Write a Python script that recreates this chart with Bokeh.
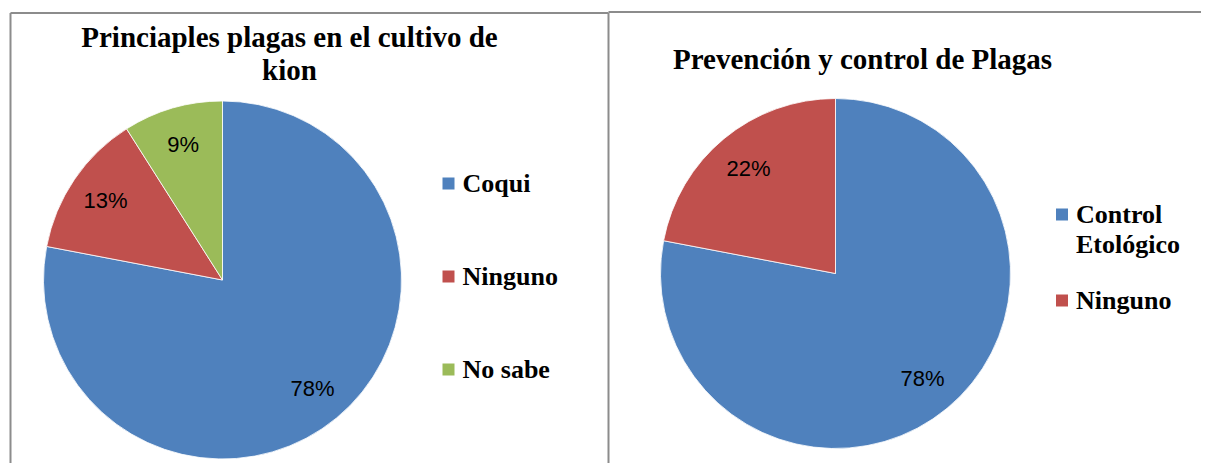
import math
from bokeh.plotting import figure
from bokeh.models import Range1d, ColumnDataSource
from bokeh.core.properties import value
from bokeh.embed import file_html
from bokeh.resources import INLINE

# ---- data ----
left_title = ["Princiaples plagas en el cultivo de", "kion"]
left_categories = ["Coqui", "Ninguno", "No sabe"]
left_values = [78, 13, 9]
left_colors = ["#4F81BD", "#C0504D", "#9BBB59"]

right_title = ["Prevención y control de Plagas"]
right_categories = ["Control\nEtológico", "Ninguno"]
right_values = [78, 22]
right_colors = ["#4F81BD", "#C0504D"]

# ---- geometry (picture pixels) ----
W, H = 1201, 463
TEXT_SHIFT = 8  # compensate rendered baseline offset


def Y(py):
    return H - py


def X(px):
    return px


p = figure(width=W, height=H, output_backend="svg", toolbar_location=None,
           x_range=Range1d(0, W), y_range=Range1d(0, H),
           min_border=0, min_border_left=0, min_border_right=0,
           min_border_top=0, min_border_bottom=0)
p.axis.visible = False
p.grid.visible = False
p.outline_line_color = None
p.background_fill_color = "white"
p.border_fill_color = "white"

BORDER = "#8C8C8C"
# panel frames
p.segment(x0=[X(10), X(10), X(608), X(608)], y0=[Y(12.5), Y(12.5), Y(12.5), Y(11.5)],
          x1=[X(608), X(10), X(608), X(1210)], y1=[Y(12.5), Y(472), Y(472), Y(11.5)],
          line_color=BORDER, line_width=2)

TITLE_FONT = value("Liberation Serif")
LABEL_FONT = value("Liberation Sans")


def draw_pie(cx, cy, r, vals, colors, label_frac):
    total = float(sum(vals))
    starts, ends, lx, ly, labels = [], [], [], [], []
    a = math.pi / 2
    for v in vals:
        sweep = 2 * math.pi * v / total
        end = a
        start = a - sweep
        starts.append(start)
        ends.append(end)
        mid = (start + end) / 2
        lx.append(X(cx) + label_frac * r * math.cos(mid))
        ly.append(Y(cy) + label_frac * r * math.sin(mid))
        labels.append(f"{round(100 * v / total)}%")
        a = start
    src = ColumnDataSource(dict(start=starts, end=ends, color=colors))
    p.wedge(x=X(cx), y=Y(cy), radius=r, start_angle="start", end_angle="end",
            fill_color="color", line_color="white", line_width=0.8, source=src)
    p.text(x=lx, y=ly, text=labels, text_font=LABEL_FONT, text_font_size="22px",
           text_color="#000000", text_align="center", text_baseline="middle")


def draw_legend(x_sq, y_first, spacing, cats, colors):
    ys = []
    txt_x, txt_y, txt = [], [], []
    y = y_first
    for c in cats:
        ys.append(Y(y))
        for i, line in enumerate(c.split("\n")):
            txt_x.append(X(x_sq + 14))
            txt_y.append(Y(y + 8 + i * 30 - TEXT_SHIFT))
            txt.append(line)
        y += spacing + 30 * (len(c.split("\n")) - 1)
    p.rect(x=[X(x_sq)] * len(cats), y=ys, width=12, height=12,
           fill_color=colors, line_color=None)
    p.text(x=txt_x, y=txt_y, text=txt, text_font=TITLE_FONT, text_font_style="bold",
           text_font_size="26px", text_color="#000000", text_align="left",
           text_baseline="alphabetic")


# left chart
p.text(x=[X(289), X(289)], y=[Y(44 - TEXT_SHIFT), Y(77 - TEXT_SHIFT)], text=left_title,
       text_font=TITLE_FONT, text_font_style="bold", text_font_size="29px",
       text_color="#000000", text_align="center", text_baseline="alphabetic")
draw_pie(222, 279.5, 179, left_values, left_colors, 0.79)
draw_legend(448, 183, 93, left_categories, left_colors)

# right chart
p.text(x=[X(862)], y=[Y(66 - TEXT_SHIFT)], text=right_title, text_font=TITLE_FONT,
       text_font_style="bold", text_font_size="29px", text_color="#000000",
       text_align="center", text_baseline="alphabetic")
draw_pie(835, 273, 175, right_values, right_colors, 0.78)
draw_legend(1061.5, 214, 56, right_categories, right_colors)

open("out.html", "w").write(file_html(p, INLINE))
